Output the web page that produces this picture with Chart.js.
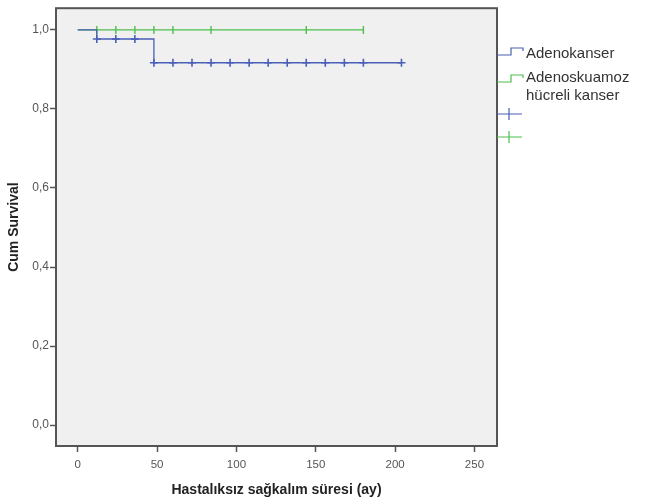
<!DOCTYPE html>
<html>
<head>
<meta charset="utf-8">
<script src="https://cdn.jsdelivr.net/npm/chart.js@4/dist/chart.umd.min.js"></script>
<style>
  html, body { margin: 0; padding: 0; background: #fff; }
  #wrap { width: 645px; height: 503px; position: relative; }
</style>
</head>
<body>
<div id="wrap"><canvas id="km" width="645" height="503"></canvas></div>
<script>
// survival steps: time (months) and cumulative survival
const adenoTimes = [0, 12, 48, 204];
const adenoSurv = [1.0, 0.977, 0.917, 0.917];
const adenoCensorTimes = [12, 24, 36, 48, 60, 72, 84, 96, 108, 120, 132, 144, 156, 168, 180, 204];

const squamTimes = [0, 180];
const squamSurv = [1.0, 1.0];
const squamCensorTimes = [12, 24, 36, 48, 60, 84, 144, 180];

const xTicks = [0, 50, 100, 150, 200, 250];
const yTicks = [0, 0.2, 0.4, 0.6, 0.8, 1.0];

const seriesNames = ["Adenokanser", "Adenoskuamoz hücreli kanser"];

const BLUE = "#4a5fb6";
const GREEN = "#4cbf4c";
const AXIS = "#555";

// survival value at time t for a step curve
const survAt = (times, surv, t) => {
  let s = surv[0];
  times.forEach((tt, i) => {
    if (tt <= t) s = surv[i];
  });
  return s;
};

const toPoints = (times, values) => times.map((t, i) => ({ x: t, y: values[i] }));
const censorPoints = (cTimes, times, surv) => cTimes.map((t) => ({ x: t, y: survAt(times, surv, t) }));

const plotFrame = {
  id: "plotFrame",
  beforeDraw(chart) {
    const { ctx, chartArea: { left, top, width, height } } = chart;
    ctx.save();
    ctx.fillStyle = "#f0f0f0";
    ctx.fillRect(left, top, width, height);
    ctx.restore();
  },
  afterDraw(chart) {
    const { ctx, chartArea: { left, top, width, height } } = chart;
    ctx.save();
    ctx.strokeStyle = AXIS;
    ctx.lineWidth = 2;
    ctx.strokeRect(left, top, width, height);
    ctx.restore();
  },
};

const sideLegend = {
  id: "sideLegend",
  afterDraw(chart) {
    const { ctx } = chart;
    ctx.save();
    ctx.lineWidth = 1.2;
    // step icons
    const step = (y, color) => {
      ctx.strokeStyle = color;
      ctx.beginPath();
      ctx.moveTo(497, y + 7);
      ctx.lineTo(511, y + 7);
      ctx.lineTo(511, y);
      ctx.lineTo(523, y);
      ctx.lineTo(523, y + 3);
      ctx.stroke();
    };
    step(48, BLUE);
    step(75, GREEN);
    // censor icons
    const cross = (y, color) => {
      ctx.strokeStyle = color;
      ctx.beginPath();
      ctx.moveTo(497, y);
      ctx.lineTo(522, y);
      ctx.moveTo(509, y - 6);
      ctx.lineTo(509, y + 6);
      ctx.stroke();
    };
    cross(114, BLUE);
    cross(137, GREEN);

    ctx.fillStyle = "#333";
    ctx.font = "15px 'Liberation Sans', Arial, sans-serif";
    ctx.textBaseline = "alphabetic";
    ctx.fillText(seriesNames[0], 526, 58);
    const words = seriesNames[1].split(" ");
    ctx.fillText(words[0], 526, 82);
    ctx.fillText(words.slice(1).join(" "), 526, 100);
    ctx.restore();
  },
};

new Chart(document.getElementById("km"), {
  type: "line",
  data: {
    datasets: [
      {
        label: seriesNames[0],
        data: toPoints(adenoTimes, adenoSurv),
        borderColor: BLUE,
        borderWidth: 1.3,
        stepped: "before",
        pointRadius: 0,
      },
      {
        label: seriesNames[1],
        data: toPoints(squamTimes, squamSurv),
        borderColor: GREEN,
        borderWidth: 1.3,
        stepped: "before",
        pointRadius: 0,
      },
      {
        label: "adeno censored",
        data: censorPoints(adenoCensorTimes, adenoTimes, adenoSurv),
        showLine: false,
        pointStyle: "cross",
        pointRadius: 4,
        pointBorderWidth: 1.6,
        borderColor: BLUE,
      },
      {
        label: "squam censored",
        data: censorPoints(squamCensorTimes, squamTimes, squamSurv),
        showLine: false,
        pointStyle: "line",
        pointRotation: 90,
        pointRadius: 4,
        pointBorderWidth: 1.4,
        borderColor: GREEN,
      },
    ],
  },
  options: {
    responsive: false,
    animation: false,
    layout: { padding: { top: 5, right: 148, left: 0, bottom: 4 } },
    plugins: {
      legend: { display: false },
      tooltip: { enabled: false },
    },
    scales: {
      x: {
        type: "linear",
        min: -13.7,
        max: 264.2,
        afterBuildTicks: (scale) => {
          scale.ticks = xTicks.map((v) => ({ value: v }));
        },
        afterFit: (scale) => {
          scale.height = 53;
        },
        grid: {
          drawOnChartArea: false,
          drawTicks: true,
          tickLength: 6,
          tickColor: AXIS,
          tickWidth: 1.5,
        },
        border: { display: false },
        ticks: {
          color: "#555",
          padding: 6,
          font: { size: 11.5, family: "'Liberation Sans', Arial, sans-serif" },
        },
        title: {
          display: true,
          text: "Hastalıksız sağkalım süresi (ay)",
          color: "#222",
          padding: { top: 4, bottom: 0 },
          font: { size: 14, weight: "bold", family: "'Liberation Sans', Arial, sans-serif" },
        },
      },
      y: {
        type: "linear",
        min: -0.053,
        max: 1.055,
        afterBuildTicks: (scale) => {
          scale.ticks = yTicks.map((v) => ({ value: v }));
        },
        afterFit: (scale) => {
          scale.width = 56;
        },
        grid: {
          drawOnChartArea: false,
          drawTicks: true,
          tickLength: 6,
          tickColor: AXIS,
          tickWidth: 1.5,
        },
        border: { display: false },
        ticks: {
          color: "#555",
          padding: 1,
          font: { size: 12, family: "'Liberation Sans', Arial, sans-serif" },
          callback: (value) => value.toFixed(1).replace(".", ","),
        },
        title: {
          display: true,
          text: "Cum Survival",
          color: "#222",
          padding: { top: 6, bottom: 4 },
          font: { size: 14, weight: "bold", family: "'Liberation Sans', Arial, sans-serif" },
        },
      },
    },
  },
  plugins: [plotFrame, sideLegend],
});
</script>
</body>
</html>
